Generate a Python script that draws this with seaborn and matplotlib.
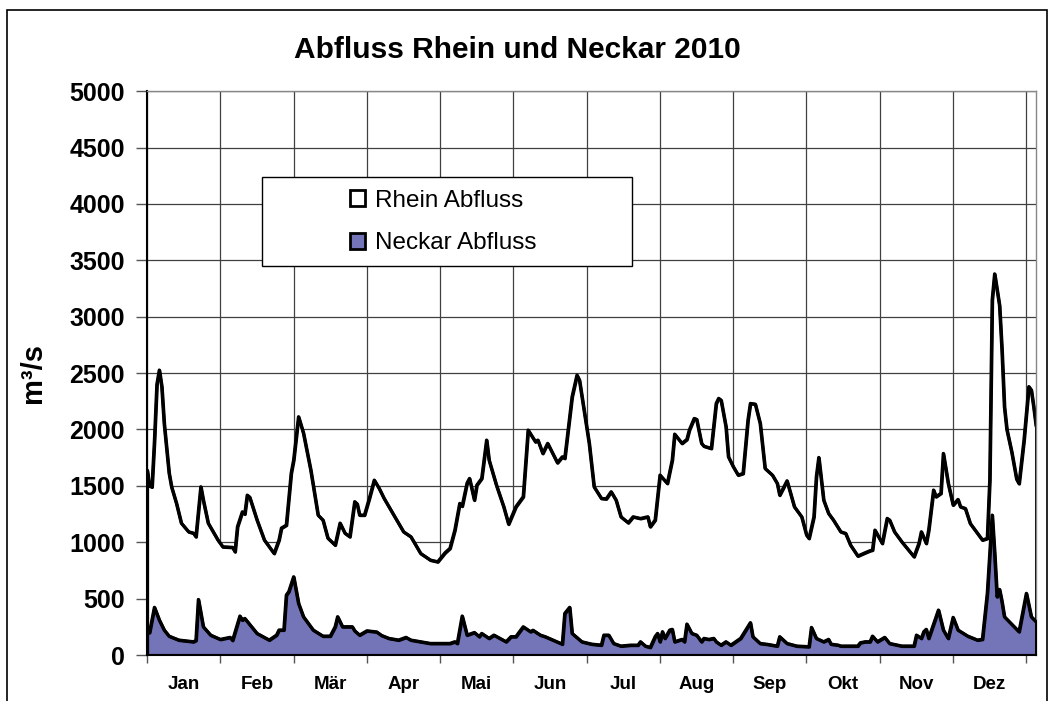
import numpy as np
import pandas as pd
import matplotlib
matplotlib.use("Agg")
import matplotlib.pyplot as plt
import matplotlib.patches as mpatches
import seaborn as sns

sns.set_theme(style="white")
plt.rcParams['font.family'] = ['Liberation Sans', 'DejaVu Sans']
plt.rcParams['text.color'] = 'black'
plt.rcParams['axes.labelcolor'] = 'black'
plt.rcParams['xtick.color'] = 'black'
plt.rcParams['ytick.color'] = 'black'

# Tag im Jahr (0 = 1. Jan) und Abfluss in m3/s
rhein_days = [0, 1, 2, 3, 4, 5, 6, 7, 9, 10, 12, 14, 17, 19, 20, 22, 23, 25, 29, 31,
              35, 36, 37, 39, 40, 41, 42, 45, 48, 52, 54, 55, 57, 59, 60, 62, 64, 67, 70, 72,
              74, 77, 79, 81, 83, 85, 86, 87, 89, 91, 93, 95, 97, 101, 105, 108, 112, 116, 119, 122,
              124, 126, 128, 129, 131, 132, 134, 135, 137, 139, 140, 143, 146, 148, 151, 154, 156, 159, 160, 162,
              164, 168, 170, 171, 174, 176, 177, 181, 183, 186, 188, 190, 192, 194, 197, 199, 202, 205, 206, 208,
              210, 213, 215, 216, 219, 221, 222, 224, 225, 227, 228, 231, 233, 234, 235, 237, 238, 240, 242, 244,
              246, 247, 249, 251, 253, 256, 258, 259, 262, 265, 268, 270, 271, 273, 274, 275, 277, 279, 281, 284,
              286, 288, 291, 294, 296, 297, 298, 301, 303, 304, 306, 309, 314, 316, 317, 319, 320, 322, 323, 325,
              326, 328, 330, 332, 333, 335, 337, 340, 342, 344, 345, 346, 347, 349, 350, 351, 352, 354, 356, 357,
              359, 361, 362, 363, 364]
rhein_flow = [1640, 1500, 1490, 1900, 2400, 2527, 2380, 2050, 1613, 1492, 1346, 1170, 1093, 1081, 1049, 1492, 1374, 1170, 1020, 960,
              955, 916, 1138, 1270, 1250, 1418, 1400, 1197, 1020, 901, 1020, 1126, 1152, 1613, 1729, 2113, 1968, 1640, 1241, 1197,
              1037, 975, 1170, 1081, 1049, 1360, 1340, 1241, 1241, 1390, 1551, 1478, 1390, 1241, 1093, 1049, 901, 842, 827, 907,
              946, 1108, 1345, 1320, 1525, 1566, 1374, 1507, 1566, 1906, 1729, 1507, 1315, 1161, 1315, 1404, 1995, 1891, 1906, 1788,
              1877, 1705, 1758, 1744, 2290, 2482, 2438, 1877, 1492, 1389, 1385, 1448, 1374, 1226, 1173, 1226, 1211, 1226, 1138, 1197,
              1596, 1522, 1729, 1959, 1877, 1912, 1995, 2098, 2090, 1877, 1852, 1832, 2231, 2276, 2260, 2024, 1758, 1670, 1596, 1610,
              2083, 2231, 2225, 2054, 1655, 1596, 1522, 1418, 1545, 1315, 1226, 1064, 1034, 1226, 1581, 1752, 1374, 1256, 1197, 1093,
              1079, 975, 878, 907, 925, 931, 1108, 990, 1212, 1197, 1093, 1004, 872, 990, 1093, 990, 1108, 1463, 1404, 1434,
              1788, 1522, 1330, 1380, 1315, 1300, 1167, 1079, 1020, 1034, 1550, 3150, 3380, 3100, 2700, 2200, 2000, 1800, 1560, 1520,
              1900, 2380, 2350, 2200, 2030]

neckar_days = [0, 1, 3, 5, 7, 9, 13, 19, 20, 21, 23, 26, 30, 34, 35, 38, 39, 40, 45, 50,
               53, 54, 56, 57, 58, 60, 62, 64, 68, 72, 75, 77, 78, 80, 84, 85, 87, 90, 94, 96,
               99, 103, 106, 108, 116, 124, 126, 127, 129, 131, 134, 136, 137, 140, 142, 147, 149, 151, 154, 157,
               158, 161, 163, 170, 171, 173, 174, 178, 182, 186, 187, 189, 191, 194, 198, 201, 202, 204, 206, 208,
               209, 210, 211, 212, 214, 215, 216, 219, 220, 221, 223, 225, 227, 228, 230, 232, 233, 235, 237, 239,
               243, 247, 248, 251, 254, 258, 259, 262, 266, 271, 272, 274, 277, 279, 280, 283, 284, 291, 292, 294,
               296, 297, 299, 302, 304, 309, 314, 315, 317, 318, 319, 320, 324, 326, 328, 330, 332, 336, 340, 342,
               344, 346, 347, 348, 349, 350, 351, 355, 357, 360, 362, 364]
neckar_flow = [192, 200, 423, 310, 222, 168, 133, 118, 130, 493, 251, 177, 139, 157, 130, 346, 310, 325, 192, 133,
               177, 222, 222, 532, 562, 694, 458, 340, 222, 168, 168, 251, 340, 251, 251, 215, 177, 215, 205, 174,
               148, 133, 157, 133, 103, 103, 118, 103, 346, 177, 200, 163, 192, 148, 177, 118, 163, 163, 251, 207,
               220, 177, 163, 97, 369, 423, 192, 118, 97, 88, 177, 177, 103, 80, 88, 88, 118, 80, 68, 163,
               192, 118, 207, 148, 222, 228, 118, 139, 118, 275, 192, 177, 118, 148, 139, 148, 118, 88, 118, 88,
               148, 287, 163, 103, 95, 80, 163, 103, 80, 74, 245, 148, 118, 139, 97, 88, 80, 80, 109, 118,
               118, 168, 118, 157, 103, 80, 80, 177, 148, 207, 228, 148, 399, 222, 148, 334, 222, 168, 133, 140,
               547, 1241, 901, 517, 582, 473, 340, 251, 207, 547, 340, 295]

month_labels = ['Jan', 'Feb', 'Mär', 'Apr', 'Mai', 'Jun', 'Jul', 'Aug', 'Sep', 'Okt', 'Nov', 'Dez']
y_ticks = list(range(0, 5001, 500))

rhein = pd.DataFrame({'day': rhein_days, 'flow': rhein_flow})
neckar = pd.DataFrame({'day': neckar_days, 'flow': neckar_flow})

fig = plt.figure(figsize=(10.54, 7.01), dpi=100)
ax = fig.add_axes([0.1395, 0.0656, 0.8435, 0.8044])
ax.set_axisbelow(True)

# Flaechen wie im Excel-Flaechendiagramm
ax.fill_between(rhein['day'], rhein['flow'], 0, facecolor='white', edgecolor='black',
                linewidth=2.3, zorder=2)
sns.lineplot(data=rhein, x='day', y='flow', color='black', linewidth=2.3, ax=ax, zorder=2)
ax.fill_between(neckar['day'], neckar['flow'], 0, facecolor='#7474B8', edgecolor='black',
                linewidth=2.3, zorder=3)
sns.lineplot(data=neckar, x='day', y='flow', color='black', linewidth=2.3, ax=ax, zorder=3)

ax.set_xlim(0, 364)
ax.set_ylim(0, 5000)
ax.set_yticks(y_ticks)
ax.set_yticklabels([str(v) for v in y_ticks], fontsize=18, fontweight='bold')
ax.set_xticks(np.arange(0, 361, 30))
ax.set_xticks(np.arange(15, 360, 30), minor=True)
ax.set_xticklabels([])
ax.set_xticklabels(month_labels, minor=True, fontsize=13.5, fontweight='bold')
ax.tick_params(axis='x', which='major', length=6, width=1, color='#555555', direction='out', bottom=True)
ax.tick_params(axis='x', which='minor', length=0, pad=15, bottom=True, labelcolor='black')
ax.tick_params(axis='y', length=8, width=1, color='#555555', direction='out', left=True, pad=8,
               labelcolor='black')
ax.grid(True, which='major', color='#404040', linewidth=0.9)

for side in ['top', 'right']:
    ax.spines[side].set_color('#888888')
    ax.spines[side].set_linewidth(1)
ax.spines['left'].set_color('black')
ax.spines['left'].set_linewidth(1.5)
ax.spines['bottom'].set_color('black')
ax.spines['bottom'].set_linewidth(1.5)

ax.set_xlabel('')
ax.set_ylabel('m³/s', fontsize=21, fontweight='bold', color='black')
ax.yaxis.set_label_coords(-0.128, 0.5)
ax.yaxis.label.set_va('center')

fig.suptitle('Abfluss Rhein und Neckar 2010', x=0.4905, y=0.928, va='center',
             fontsize=21.5, fontweight='bold', color='black')

# Legendenrahmen
ax.add_patch(mpatches.Rectangle((0.129, 0.690), 0.416, 0.158, transform=ax.transAxes,
                                facecolor='white', edgecolor='black', linewidth=1, zorder=4))
handles = [mpatches.Patch(facecolor='white', edgecolor='black', linewidth=2, label='Rhein Abfluss'),
           mpatches.Patch(facecolor='#7474B8', edgecolor='black', linewidth=2, label='Neckar Abfluss')]
leg = ax.legend(handles=handles, loc='center', bbox_to_anchor=(0.333, 0.768), frameon=False,
                fontsize=17.5, handlelength=0.65, handleheight=0.65, handletextpad=0.4,
                labelspacing=0.85)
for t in leg.get_texts():
    t.set_color('black')
leg.set_zorder(5)

# Rahmen um das Diagramm
fig.add_artist(mpatches.Rectangle((7 / 1054, -0.05), 1040 / 1054, 1.05 - 10 / 701,
                                  transform=fig.transFigure, facecolor='none',
                                  edgecolor='black', linewidth=1.2))

fig.savefig('out.png', dpi=100)
